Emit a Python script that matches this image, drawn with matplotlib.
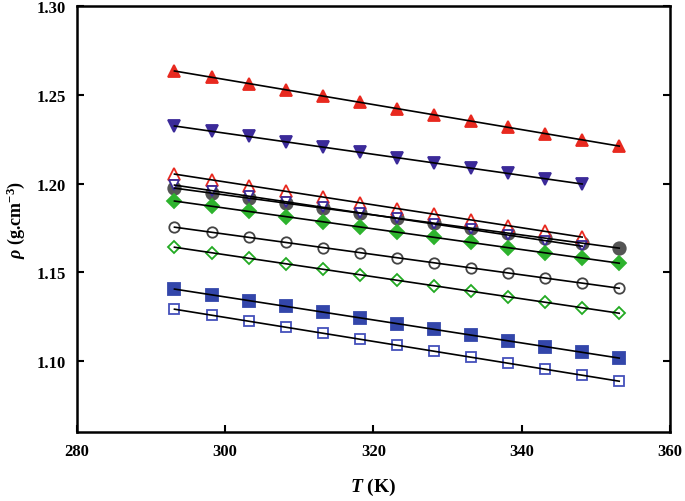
import numpy as np
import matplotlib
matplotlib.use("Agg")
import matplotlib.pyplot as plt

plt.rcParams["font.family"] = ["Liberation Serif", "DejaVu Serif"]
plt.rcParams["font.weight"] = "bold"
plt.rcParams["mathtext.fontset"] = "custom"
plt.rcParams["mathtext.rm"] = "Liberation Serif:bold"
plt.rcParams["mathtext.it"] = "Liberation Serif:italic:bold"
plt.rcParams["mathtext.bf"] = "Liberation Serif:bold"

# temperatures (K)
T13 = [293.15, 298.15, 303.15, 308.15, 313.15, 318.15, 323.15,
       328.15, 333.15, 338.15, 343.15, 348.15, 353.15]
T12 = T13[:12]

# densities (g/cm3)
rho_red_fill = [1.2634, 1.2599, 1.2563, 1.2528, 1.2493, 1.2458, 1.2422,
                1.2387, 1.2352, 1.2317, 1.2281, 1.2246, 1.2211]
rho_blue_tri = [1.2324, 1.2294, 1.2265, 1.2235, 1.2205, 1.2176, 1.2146,
                1.2116, 1.2086, 1.2057, 1.2027, 1.1997]
rho_red_open = [1.2053, 1.2021, 1.1988, 1.1956, 1.1924, 1.1892, 1.1859,
                1.1827, 1.1795, 1.1763, 1.1730, 1.1698]
rho_blue_open_tri = [1.1991, 1.1960, 1.1929, 1.1897, 1.1866, 1.1835, 1.1803,
                     1.1772, 1.1741, 1.1710, 1.1678, 1.1647]
rho_gray_fill = [1.1974, 1.1946, 1.1918, 1.1889, 1.1861, 1.1833, 1.1805,
                 1.1777, 1.1749, 1.1720, 1.1692, 1.1664, 1.1636]
rho_green_fill = [1.1901, 1.1872, 1.1843, 1.1814, 1.1784, 1.1755, 1.1726,
                  1.1697, 1.1668, 1.1639, 1.1609, 1.1580, 1.1551]
rho_circle_open = [1.1754, 1.1725, 1.1697, 1.1668, 1.1639, 1.1611, 1.1582,
                   1.1553, 1.1525, 1.1496, 1.1467, 1.1439, 1.1410]
rho_green_open = [1.1641, 1.1610, 1.1579, 1.1548, 1.1517, 1.1486, 1.1455,
                  1.1424, 1.1393, 1.1362, 1.1331, 1.1300, 1.1269]
rho_blue_sq = [1.1405, 1.1373, 1.1340, 1.1308, 1.1276, 1.1243, 1.1211,
               1.1178, 1.1146, 1.1114, 1.1081, 1.1049, 1.1016]
rho_blue_sq_open = [1.1292, 1.1258, 1.1224, 1.1190, 1.1157, 1.1123, 1.1089,
                    1.1055, 1.1021, 1.0987, 1.0954, 1.0920, 1.0886]

# (T, rho, marker, face, edge, size)
series = [
    (T13, rho_red_fill, "^", "#e8291f", "#e8291f", 9),
    (T12, rho_blue_tri, "v", "#3b2a99", "#3b2a99", 9),
    (T12, rho_red_open, "^", "white", "#e8291f", 8),
    (T12, rho_blue_open_tri, "v", "white", "#3b2a99", 7.5),
    (T13, rho_gray_fill, "o", "#555555", "#555555", 9),
    (T13, rho_green_fill, "D", "#2db32d", "#2db32d", 7.5),
    (T13, rho_circle_open, "o", "white", "#444444", 7.5),
    (T13, rho_green_open, "D", "white", "#22aa22", 6.5),
    (T13, rho_blue_sq, "s", "#3346aa", "#3346aa", 8.5),
    (T13, rho_blue_sq_open, "s", "white", "#4450bb", 6.5),
]

fig = plt.figure(figsize=(6.85, 5.02), dpi=100)
ax = fig.add_axes([0.1124, 0.1375, 0.8657, 0.8485])

# markers first (gray circle behind open blue triangle), then fit lines on top
order = [0, 1, 4, 2, 3, 5, 6, 7, 8, 9]
for i in order:
    t, r, m, fc, ec, ms = series[i]
    ax.plot(t, r, linestyle="none", marker=m, markerfacecolor=fc,
            markeredgecolor=ec, markersize=ms, markeredgewidth=1.3, zorder=2)

for t, r, m, fc, ec, ms in series:
    t = np.array(t)
    k, b = np.polyfit(t, r, 1)
    ax.plot([t[0], t[-1]], [k * t[0] + b, k * t[-1] + b], color="black",
            linewidth=1.2, zorder=3)

ax.set_xlim(280, 360)
ax.set_ylim(1.06, 1.30)
ax.set_xticks([280, 300, 320, 340, 360])
ax.set_yticks([1.10, 1.15, 1.20, 1.25, 1.30])
ax.set_yticklabels(["1.10", "1.15", "1.20", "1.25", "1.30"])
ax.tick_params(direction="in", length=5, width=1.5, labelsize=12,
               right=True, top=False, pad=8)
for lab in ax.get_xticklabels() + ax.get_yticklabels():
    lab.set_fontweight("bold")
for sp in ax.spines.values():
    sp.set_linewidth(1.8)

ax.set_xlabel(r"$T$ (K)", fontsize=14, fontweight="bold", labelpad=12)
ax.set_ylabel(r"$\rho$ (g.cm$^{-3}$)", fontsize=13, fontweight="bold")
ax.yaxis.set_label_coords(-0.085, 0.5)

fig.savefig("out.png", dpi=100)
